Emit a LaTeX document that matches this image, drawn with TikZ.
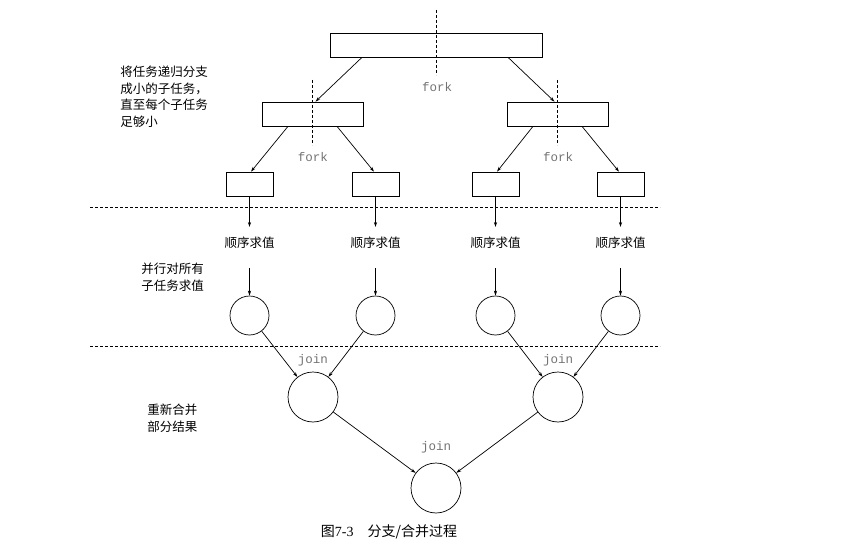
\documentclass[tikz,border=0pt]{standalone}
\usepackage{fontspec}
\setmainfont{Liberation Serif}
\setmonofont{Liberation Mono}
\newfontfamily\cjk{Noto Sans CJK SC}
\usetikzlibrary{arrows.meta}
\begin{document}
\begin{tikzpicture}[x=1pt,y=-1pt,
  line width=0.7pt,
  box/.style={draw,rectangle,inner sep=0pt,minimum height=24pt},
  bigbox/.style={box,minimum width=212pt},
  midbox/.style={box,minimum width=101pt},
  smallbox/.style={box,minimum width=47pt},
  leaf/.style={draw,circle,inner sep=0pt,minimum size=39pt},
  joincirc/.style={draw,circle,inner sep=0pt,minimum size=50pt},
  arr/.style={-{Stealth[length=5pt,width=3.2pt]}},
  dsh/.style={dash pattern=on 3pt off 2pt,line width=0.6pt},
  code/.style={font=\ttfamily\fontsize{12.5}{14}\selectfont,text=black!55},
  cn/.style={font=\cjk\fontsize{12.5}{16.5}\selectfont,align=left,inner sep=0pt},
]
\useasboundingbox (0,0) rectangle (847,551);

% boxes
\node[bigbox] (top) at (436,45) {};
\node[midbox] (ma) at (312.5,114) {};
\node[midbox] (mb) at (557.5,114) {};
\node[smallbox] (s1) at (249.5,184) {};
\node[smallbox] (s2) at (375.5,184) {};
\node[smallbox] (s3) at (495.5,184) {};
\node[smallbox] (s4) at (620.5,184) {};

% vertical dashed fork lines
\coordinate (d0a) at (436,10); \coordinate (d0b) at (436,75);
\coordinate (d1a) at (312,80); \coordinate (d1b) at (312,145);
\coordinate (d2a) at (557,80); \coordinate (d2b) at (557,145);
\draw[dsh] (d0a) -- (d0b);
\draw[dsh] (d1a) -- (d1b);
\draw[dsh] (d2a) -- (d2b);

\node[code] (f0) at (437,87) {fork};
\node[code] (f1) at (313,157) {fork};
\node[code] (f2) at (558,157) {fork};

% fork arrows
\draw[arr] ([xshift=-74pt]top.south) -- ([xshift=3pt]ma.north);
\draw[arr] ([xshift=72pt]top.south) -- ([xshift=-3pt]mb.north);
\draw[arr] ([xshift=-24.5pt]ma.south) -- ([xshift=1.5pt]s1.north);
\draw[arr] ([xshift=24.5pt]ma.south) -- ([xshift=-1.5pt]s2.north);
\draw[arr] ([xshift=-24.5pt]mb.south) -- ([xshift=1.5pt]s3.north);
\draw[arr] ([xshift=24.5pt]mb.south) -- ([xshift=-1.5pt]s4.north);

% horizontal dashed separators
\coordinate (h1a) at (90,207); \coordinate (h1b) at (660,207);
\coordinate (h2a) at (90,346); \coordinate (h2b) at (660,346);
\draw[dsh] (h1a) -- (h1b);
\draw[dsh] (h2a) -- (h2b);

% down arrows to labels
\foreach \i/\x in {1/249.5,2/375.5,3/495.5,4/620.5}{
  \coordinate (e\i) at (\x,227);
  \draw[arr] (s\i.south) -- (e\i);
  \node[cn] (v\i) at (\x,243) {顺序求值};
  \coordinate (g\i) at (\x,268);
  \node[leaf] (c\i) at (\x,315.5) {};
  \draw[arr] (g\i) -- (c\i.north);
}

% join circles
\node[joincirc] (j1) at (313,397) {};
\node[joincirc] (j2) at (558,397) {};
\node[joincirc] (j3) at (436,488) {};
\node[code] (jl1) at (313,360) {join};
\node[code] (jl2) at (558,360) {join};
\node[code] (jl3) at (436,447) {join};

\draw[arr] (c1) -- (j1);
\draw[arr] (c2) -- (j1);
\draw[arr] (c3) -- (j2);
\draw[arr] (c4) -- (j2);
\draw[arr] (j1) -- (j3);
\draw[arr] (j2) -- (j3);

% side labels
\node[cn,anchor=north west] (t1) at (120,66) {将任务递归分支\\成小的子任务，\\直至每个子任务\\足够小};
\node[cn,anchor=north west] (t2) at (141,263) {并行对所有\\子任务求值};
\node[cn,anchor=north west] (t3) at (147,404) {重新合并\\部分结果};

% caption
\node[font=\fontsize{14}{16}\selectfont,inner sep=0pt] (cap) at (389,532) {{\cjk 图}7-3\hspace{1em}{\cjk 分支/合并过程}};
\end{tikzpicture}
\end{document}
